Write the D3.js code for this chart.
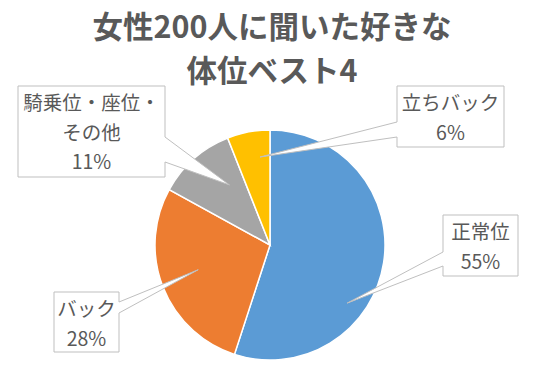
<!DOCTYPE html>
<html lang="ja">
<head>
  <meta charset="utf-8" />
  <title>好きな体位ベスト4</title>
  <script src="https://cdn.jsdelivr.net/npm/d3@7/dist/d3.min.js"></script>
  <style>
    body { margin: 0; background: #fff; }
    text { font-family: "Noto Sans CJK JP", "Noto Sans", sans-serif; fill: #595959; }
  </style>
</head>
<body>
  <script>
    // データ
    var titleLines = ["女性200人に聞いた好きな", "体位ベスト4"];
    var categories = ["正常位", "バック", "騎乗位・座位・その他", "立ちバック"];
    var labelLines = [["正常位"], ["バック"], ["騎乗位・座位・", "その他"], ["立ちバック"]];
    var values = [55, 28, 11, 6];
    var colors = ["#5B9BD5", "#ED7D31", "#A5A5A5", "#FFC000"];

    // ラベル配置 (ボックス x, y, w, h / 吹き出しの根元 / 先端の角度と半径比)
    var layout = [
      { box: [443, 215, 75, 61], side: "left", base: [252, 266], tipAngle: 127, tipR: 0.84 },
      { box: [54, 292, 65, 60], side: "right", base: [302, 313], tipAngle: 251, tipR: 0.66 },
      { box: [18, 86, 147, 91], side: "right", base: [137, 162], tipAngle: 326, tipR: 0.63 },
      { box: [397, 86, 107, 61], side: "left", base: [122, 137], tipAngle: 353.5, tipR: 0.77 }
    ];

    var width = 540, height = 389;
    var cx = 270, cy = 245, radius = 115;

    var svg = d3.select("body").append("svg")
      .attr("width", width)
      .attr("height", height);

    // タイトル
    svg.selectAll(".title")
      .data(titleLines)
      .enter()
      .append("text")
      .attr("class", "title")
      .attr("x", width / 2 + 2)
      .attr("y", function (d, i) { return 38 + i * 44; })
      .attr("text-anchor", "middle")
      .attr("font-size", 30.5)
      .attr("font-weight", "bold")
      .text(function (d) { return d; });

    var total = d3.sum(values);
    var pie = d3.pie().sort(null).value(function (d) { return d; });
    var arc = d3.arc().innerRadius(0).outerRadius(radius);
    var arcs = pie(values);

    var g = svg.append("g").attr("transform", "translate(" + cx + "," + cy + ")");
    g.selectAll("path")
      .data(arcs)
      .enter()
      .append("path")
      .attr("d", arc)
      .attr("fill", function (d, i) { return colors[i]; })
      .attr("stroke", "#fff")
      .attr("stroke-width", 1.5);

    // 吹き出しラベル
    var pct = d3.format(".0%");
    var angle = d3.scaleLinear().domain([0, 360]).range([0, 2 * Math.PI]);

    layout.forEach(function (L, i) {
      var x0 = L.box[0], y0 = L.box[1], x1 = x0 + L.box[2], y1 = y0 + L.box[3];
      var a = angle(L.tipAngle);
      var tx = cx + Math.sin(a) * radius * L.tipR;
      var ty = cy - Math.cos(a) * radius * L.tipR;
      var p = d3.path();
      p.moveTo(x0, y0);
      p.lineTo(x1, y0);
      if (L.side === "right") {
        p.lineTo(x1, L.base[0]);
        p.lineTo(tx, ty);
        p.lineTo(x1, L.base[1]);
        p.lineTo(x1, y1);
        p.lineTo(x0, y1);
      } else {
        p.lineTo(x1, y1);
        p.lineTo(x0, y1);
        p.lineTo(x0, L.base[1]);
        p.lineTo(tx, ty);
        p.lineTo(x0, L.base[0]);
      }
      p.closePath();
      svg.append("path")
        .attr("d", p.toString())
        .attr("fill", "#fff")
        .attr("stroke", "#BFBFBF")
        .attr("stroke-width", 1);

      var lines = labelLines[i].concat([pct(values[i] / total)]);
      svg.selectAll(".lbl" + i)
        .data(lines)
        .enter()
        .append("text")
        .attr("class", "lbl" + i)
        .attr("x", (x0 + x1) / 2)
        .attr("y", function (d, j) { return y0 + 17 + j * 29.5 + 7; })
        .attr("text-anchor", "middle")
        .attr("font-size", 19.5)
        .text(function (d) { return d; });
    });
  </script>
</body>
</html>
